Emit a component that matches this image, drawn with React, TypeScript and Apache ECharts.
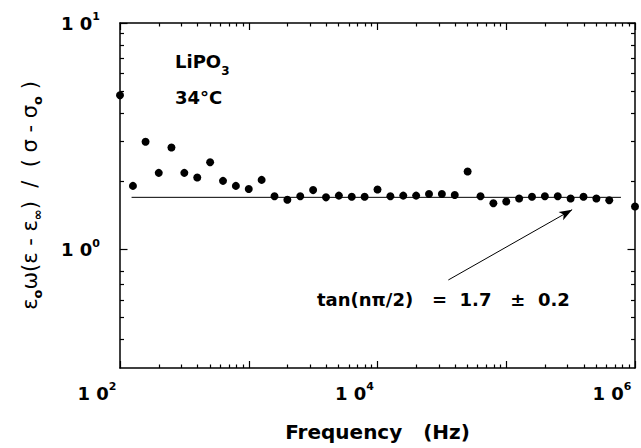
import React, { useEffect, useRef } from "react";
import * as echarts from "echarts";

// Frequency (Hz) of each measured point
const frequencies = [
  100, 126, 158, 200, 251, 316, 398, 501, 631, 794,
  1000, 1259, 1585, 1995, 2512, 3162, 3981, 5012, 6310, 7943,
  10000, 12589, 15849, 19953, 25119, 31623, 39811, 50119, 63096, 79433,
  100000, 125893, 158489, 199526, 251189, 316228, 398107, 501187, 630957, 1000000,
];
// eps0*omega*(eps - eps_inf) / (sigma - sigma0)
const ratioValues = [
  4.8, 1.91, 2.99, 2.18, 2.82, 2.18, 2.08, 2.43, 2.01, 1.91,
  1.85, 2.03, 1.72, 1.66, 1.72, 1.83, 1.70, 1.73, 1.71, 1.71,
  1.84, 1.72, 1.73, 1.73, 1.76, 1.76, 1.74, 2.21, 1.72, 1.60,
  1.63, 1.68, 1.71, 1.72, 1.72, 1.68, 1.71, 1.68, 1.65, 1.55,
];
// horizontal line tan(n*pi/2) = 1.7
const fitFrequencies = [123, 778000];
const fitValue = 1.7;
// annotation arrow (data coordinates)
const arrowFrom = [35500, 0.734];
const arrowTo = [325000, 1.5];

const xRange = [100, 1000000];
const yRange = [0.3, 10];
const xDecades = [2, 3, 4, 5, 6];
const yDecades = [0, 1];
const xLabelExponents = [2, 4, 6];
const yLabelExponents = [0, 1];
const minorMultipliers = [2, 3, 4, 5, 6, 7, 8, 9];
const yMinorBelowOne = [0.4, 0.5, 0.6, 0.7, 0.8];

const INK = "#000";
const BOLD_FONT = "DejaVu Sans";

const xMinorLog: number[] = [];
[2, 3, 4, 5].forEach((d) => minorMultipliers.forEach((m) => xMinorLog.push(Math.log10(m * Math.pow(10, d)))));
const yMinorLog: number[] = [
  ...yMinorBelowOne.map((v) => Math.log10(v)),
  ...minorMultipliers.map((m) => Math.log10(m)),
];

const labelRich = {
  b: { fontSize: 18, fontWeight: "bold", fontFamily: BOLD_FONT, color: INK, lineHeight: 18, padding: [6, 0, 0, 0] },
  s: { fontSize: 11, fontWeight: "bold", fontFamily: BOLD_FONT, color: INK, lineHeight: 11, verticalAlign: "top" },
};

const powerLabel = (allowed: number[]) => (v: number) => {
  const l = Math.log10(v);
  const e = Math.round(l);
  if (Math.abs(l - e) > 1e-6 || !allowed.includes(e)) return "";
  return `{b|1 0}{s|${e}}`;
};

const tickAxis = (pos: string, min: number, max: number, values: number[], len: number, line: boolean) => ({
  type: "value",
  position: pos,
  min,
  max,
  axisLine: { show: line, onZero: false, lineStyle: { color: INK, width: 1.5 } },
  axisTick: { show: true, inside: true, length: len, customValues: values, lineStyle: { color: INK, width: 1.2 } },
  axisLabel: { show: false },
  splitLine: { show: false },
});

const yLogMin = Math.log10(yRange[0]);
const yLogMax = Math.log10(yRange[1]);
const xLogMin = Math.log10(xRange[0]);
const xLogMax = Math.log10(xRange[1]);

const option = {
  animation: false,
  backgroundColor: "#fff",
  grid: { left: 120, right: 6, top: 23, bottom: 80, containLabel: false },
  xAxis: [
    {
      type: "log",
      logBase: 10,
      min: xRange[0],
      max: xRange[1],
      position: "bottom",
      axisLine: { show: true, onZero: false, lineStyle: { color: INK, width: 1.5 } },
      axisTick: { show: false },
      splitLine: { show: false },
      axisLabel: { formatter: powerLabel(xLabelExponents), rich: labelRich, margin: 13, padding: [0, 46, 0, 0] },
      name: "Frequency   (Hz)",
      nameLocation: "middle",
      nameGap: 54,
      nameTextStyle: { fontSize: 20, fontWeight: "bold", fontFamily: BOLD_FONT, color: INK },
    },
    tickAxis("bottom", xLogMin, xLogMax, xDecades, 7, false),
    tickAxis("bottom", xLogMin, xLogMax, xMinorLog, 3.5, false),
    tickAxis("top", xLogMin, xLogMax, xDecades, 7, true),
    tickAxis("top", xLogMin, xLogMax, xMinorLog, 3.5, false),
  ],
  yAxis: [
    {
      type: "log",
      logBase: 10,
      min: yRange[0],
      max: yRange[1],
      position: "left",
      axisLine: { show: true, onZero: false, lineStyle: { color: INK, width: 1.5 } },
      axisTick: { show: false },
      splitLine: { show: false },
      axisLabel: { formatter: powerLabel(yLabelExponents), rich: labelRich, margin: 20, padding: [0, 0, 6, 0] },
      name: "{e|ε}{sub|o}{e|ω(ε - ε}{sub|∞}{e|)  /  ( σ - σ}{sub|o}{e| )}",
      nameLocation: "middle",
      nameRotate: 90,
      nameGap: 76,
      nameTextStyle: {
        rich: {
          e: { fontSize: 21, fontFamily: "DejaVu Sans", color: INK, lineHeight: 21, padding: [0, 0, 7, 0] },
          sub: { fontSize: 13, fontWeight: "bold", fontFamily: BOLD_FONT, color: INK, lineHeight: 13, verticalAlign: "bottom" },
        },
      },
    },
    tickAxis("left", yLogMin, yLogMax, yDecades, 7.5, false),
    tickAxis("left", yLogMin, yLogMax, yMinorLog, 4, false),
    tickAxis("right", yLogMin, yLogMax, yDecades, 7.5, true),
    tickAxis("right", yLogMin, yLogMax, yMinorLog, 4, false),
  ],
  series: [
    {
      type: "line",
      xAxisIndex: 0,
      yAxisIndex: 0,
      data: fitFrequencies.map((f) => [f, fitValue]),
      symbol: "none",
      lineStyle: { color: INK, width: 1 },
      silent: true,
    },
    {
      type: "scatter",
      xAxisIndex: 0,
      yAxisIndex: 0,
      data: frequencies.map((f, i) => [f, ratioValues[i]]),
      symbol: "circle",
      symbolSize: 8,
      itemStyle: { color: INK, opacity: 1 },
      markLine: {
        silent: true,
        symbol: ["none", "arrow"],
        symbolSize: [7, 13],
        label: { show: false },
        lineStyle: { color: INK, width: 1, type: "solid" },
        data: [[{ coord: arrowFrom }, { coord: arrowTo }]],
      },
    },
  ],
  graphic: [
    {
      type: "text",
      left: 175,
      top: 52,
      style: {
        text: "{m|LiPO}{s|3}",
        rich: {
          m: { fontSize: 18, fontWeight: "bold", fontFamily: BOLD_FONT, fill: INK, lineHeight: 18, padding: [0, 0, 14, 0] },
          s: { fontSize: 12, fontWeight: "bold", fontFamily: BOLD_FONT, fill: INK, lineHeight: 12, verticalAlign: "bottom" },
        },
      },
    },
    {
      type: "text",
      left: 175,
      top: 88,
      style: { text: "34°C", fontSize: 18, fontWeight: "bold", fontFamily: BOLD_FONT, fill: INK },
    },
    {
      type: "text",
      left: 317,
      top: 290,
      style: { text: "tan(nπ/2)   =  1.7   ±  0.2", fontSize: 18, fontWeight: "bold", fontFamily: BOLD_FONT, fill: INK },
    },
  ],
};

export default function App() {
  const ref = useRef<HTMLDivElement>(null);
  useEffect(() => {
    const chart = echarts.init(ref.current!, null, { renderer: "svg" });
    chart.setOption(option as any);
    return () => chart.dispose();
  }, []);
  return (
    <div
      ref={ref}
      style={{ position: "fixed", left: 0, top: 0, width: 641, height: 448, background: "#fff" }}
    />
  );
}
